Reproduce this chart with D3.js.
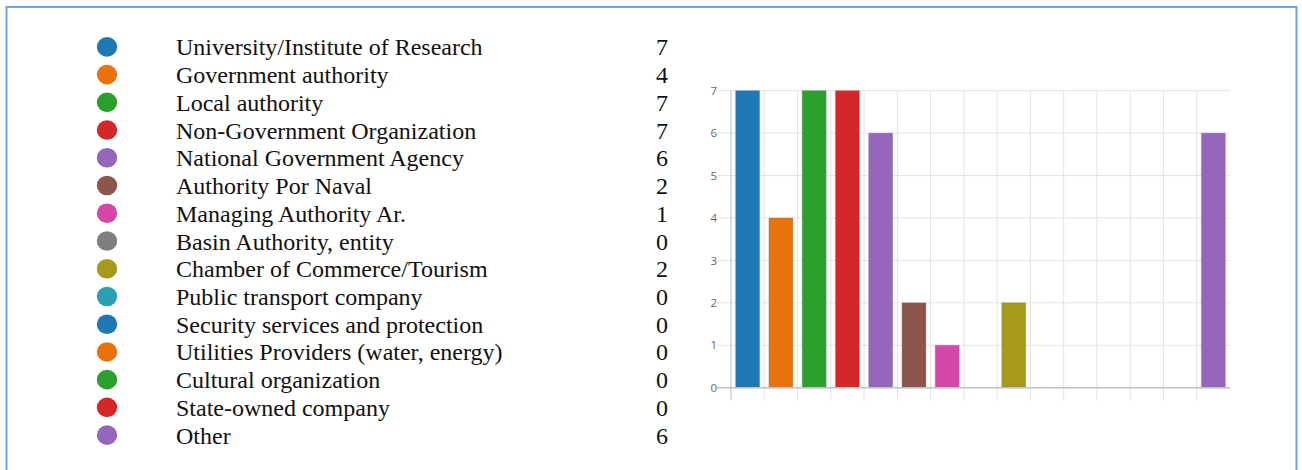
<!DOCTYPE html>
<html>
<head>
<meta charset="utf-8">
<script src="https://cdn.jsdelivr.net/npm/d3@7"></script>
<style>
  html, body { margin: 0; padding: 0; background: #fff; }
  svg { display: block; }
</style>
</head>
<body>
<svg id="chart" width="1302" height="470"></svg>
<script>
// Respondent types and their counts
const categories = [
  "University/Institute of Research",
  "Government authority",
  "Local authority",
  "Non-Government Organization",
  "National Government Agency",
  "Authority Por Naval",
  "Managing Authority Ar.",
  "Basin Authority, entity",
  "Chamber of Commerce/Tourism",
  "Public transport company",
  "Security services and protection",
  "Utilities Providers (water, energy)",
  "Cultural organization",
  "State-owned company",
  "Other"
];
const counts = [7, 4, 7, 7, 6, 2, 1, 0, 2, 0, 0, 0, 0, 0, 6];
const colors = [
  "#1f77b4", "#e8730c", "#2ca02c", "#d62728", "#9467bd",
  "#8c564b", "#d448aa", "#7f7f7f", "#a6991c", "#2aa1b1",
  "#1f77b4", "#e8730c", "#2ca02c", "#d62728", "#9467bd"
];
const yTicks = [0, 1, 2, 3, 4, 5, 6, 7];

const svg = d3.select("#chart");

// Frame
svg.append("rect")
  .attr("x", 6.5).attr("y", 7)
  .attr("width", 1290).attr("height", 480)
  .attr("fill", "none")
  .attr("stroke", "#6fa5dd")
  .attr("stroke-width", 2);

// Legend table
const row = d3.scaleBand()
  .domain(d3.range(categories.length))
  .range([33, 449]);

const legend = svg.append("g").attr("class", "legend");
const items = legend.selectAll("g")
  .data(categories)
  .join("g")
  .attr("transform", (d, i) => `translate(0,${row(i) + row.bandwidth() / 2})`);

items.append("ellipse")
  .attr("cx", 107).attr("cy", 0)
  .attr("rx", 10.2).attr("ry", 9.8)
  .attr("fill", (d, i) => colors[i]);

const serif = "'Liberation Serif', 'Times New Roman', serif";

items.append("text")
  .attr("x", 176).attr("y", 8.5)
  .attr("font-family", serif)
  .attr("font-size", 24)
  .attr("fill", "#111")
  .text(d => d);

items.append("text")
  .attr("x", 656).attr("y", 8.5)
  .attr("font-family", serif)
  .attr("font-size", 24)
  .attr("fill", "#111")
  .text((d, i) => counts[i]);

// Bar chart
const plot = { left: 731, right: 1230, top: 90.7, bottom: 387.7 };

const x = d3.scaleBand()
  .domain(categories)
  .range([plot.left, plot.right])
  .padding(0);

const y = d3.scaleLinear()
  .domain([0, 7])
  .range([plot.bottom, plot.top]);

const chart = svg.append("g").attr("class", "bars");

// Horizontal grid lines with short tick stubs
chart.append("g")
  .selectAll("line")
  .data(yTicks)
  .join("line")
  .attr("x1", plot.left - 14).attr("x2", plot.right)
  .attr("y1", d => y(d)).attr("y2", d => y(d))
  .attr("stroke", "#e4e4e4")
  .attr("stroke-width", 1);

// Vertical grid lines at category boundaries
chart.append("g")
  .selectAll("line")
  .data(categories.slice(1))
  .join("line")
  .attr("x1", d => x(d)).attr("x2", d => x(d))
  .attr("y1", plot.top).attr("y2", plot.bottom + 12.5)
  .attr("stroke", "#e4e4e4")
  .attr("stroke-width", 1);

// Y axis labels
const yAxis = d3.axisLeft(y)
  .tickValues(yTicks)
  .tickFormat(d3.format("d"))
  .tickSize(0)
  .tickPadding(14);
const yg = chart.append("g")
  .attr("transform", `translate(${plot.left},0)`)
  .call(yAxis);
yg.select(".domain").remove();
yg.selectAll("text")
  .attr("font-family", "'Open Sans', sans-serif")
  .attr("font-size", 11.5)
  .attr("fill", "#666");

// Bars
const inner = 0.14;
chart.append("g")
  .selectAll("rect")
  .data(categories)
  .join("rect")
  .attr("x", d => x(d) + x.bandwidth() * inner)
  .attr("width", x.bandwidth() * (1 - 2 * inner))
  .attr("y", (d, i) => y(counts[i]))
  .attr("height", (d, i) => y(0) - y(counts[i]))
  .attr("fill", (d, i) => colors[i])
  .attr("stroke", "rgba(120,120,120,0.35)")
  .attr("stroke-width", 1);

// Axis lines
chart.append("line")
  .attr("x1", plot.left).attr("x2", plot.left)
  .attr("y1", plot.top).attr("y2", plot.bottom + 12.5)
  .attr("stroke", "#bdbdbd")
  .attr("stroke-width", 1);

chart.append("line")
  .attr("x1", plot.left - 14).attr("x2", plot.right)
  .attr("y1", y(0)).attr("y2", y(0))
  .attr("stroke", "#c2c2c2")
  .attr("stroke-width", 1.6);
</script>
</body>
</html>
